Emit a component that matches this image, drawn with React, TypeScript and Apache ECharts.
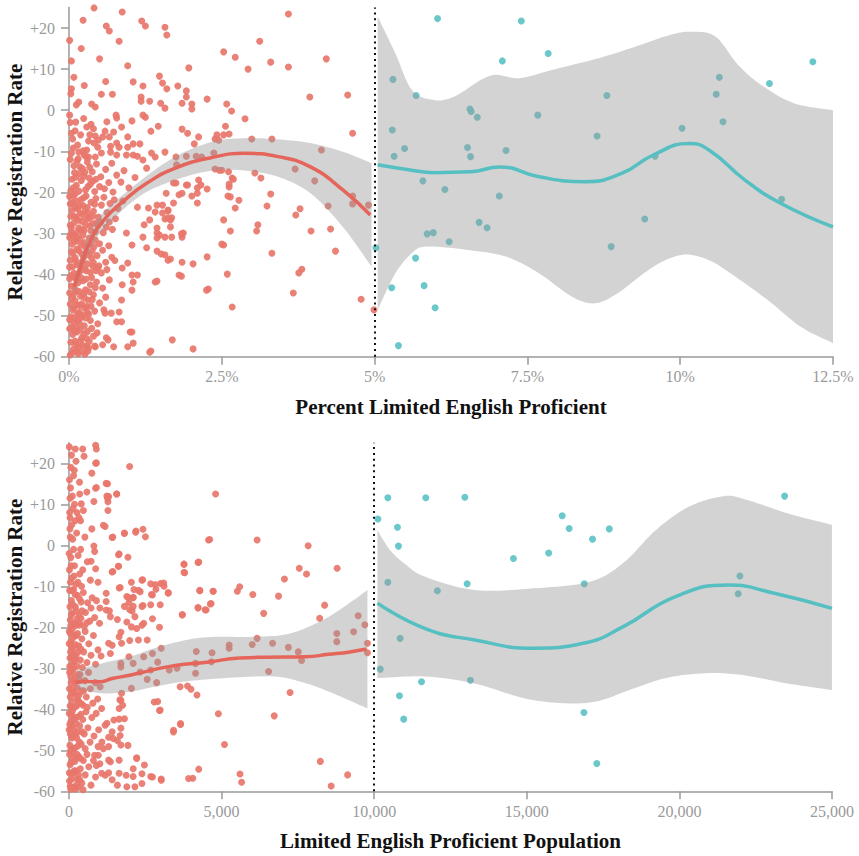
import React, { useEffect, useRef } from "react";
import * as echarts from "echarts";

const FONT = "'Liberation Serif', 'DejaVu Serif', serif";
const RED = "#E8766B";
const BLUE = "#5EC3C6";
const RED_LINE = "#E5655A";
const BLUE_LINE = "#55BFC2";
const BAND = "rgba(150,150,150,0.42)";

const Y_TICKS = [-60, -50, -40, -30, -20, -10, 0, 10, 20];
const TOP_X_TICKS = [0, 2.5, 5, 7.5, 10, 12.5];
const BOTTOM_X_TICKS = [0, 5000, 10000, 15000, 20000, 25000];
const TOP_CUTOFF = 5;
const BOTTOM_CUTOFF = 10000;

// ---------- Top panel: Percent Limited English Proficient ----------
const TOP_RED_POINTS: [number, number][] = [
  [0.41, 24.9], [0.23, 21.9], [0.87, 23.9], [0.61, 20.5], [0.66, 19.3], [1.19, 21.7], [1.25, 20.5],
  [1.57, 20.2], [1.6, 18.3], [0.82, 16.8], [0.04, 12.0], [0.5, 12.5], [0.96, 10.8], [1.96, 10.3],
  [2.53, 14.2], [2.72, 12.9], [2.93, 10], [3.12, 16.8], [3.3, 11.7], [3.59, 23.4], [3.59, 10.5],
  [4.21, 12.5], [3.94, 3.2], [4.56, 3.7], [4.64, -5.6], [4.13, -9.7], [0.04, 5.2], [0.12, 1.3],
  [0.53, 3.9], [0.71, 3.9], [0.37, 1.5], [0.43, 0.8], [1.05, 6.9], [1.21, 5.9], [1.18, 3.2],
  [1.18, 2.2], [1.32, 2.2], [1.48, 8.3], [1.53, 6.6], [1.6, 5.2], [1.78, 5.9], [1.92, 4.7],
  [1.92, 3.2], [2.26, 2.7], [1.5, 1.7], [1.57, 0.5], [1.85, 1.7], [2.01, 1.5], [2.01, 0.3],
  [2.58, 1.5], [2.66, -0.2], [2.88, -2.1], [0.01, -1.2], [0.11, -2.9], [0.29, -4.1], [0.36, -3.4],
  [0.77, -1.2], [0.78, -1.9], [0.86, -4.1], [1.03, -2.6], [1.21, -1.2], [1.25, -1.7], [1.46, -3.9],
  [1.34, -5.1], [1.85, -4.6], [1.94, -5.6], [2.12, -6.5], [2.56, -3.9], [2.42, -6], [2.62, -5.8],
  [2.39, -7], [2.45, -7.3], [2.99, -7], [3.32, -7], [0.04, -5.6], [0.34, -6], [0.43, -6.3],
  [0.48, -7.3], [0.41, -8], [0.59, -5.1], [0.66, -6.5], [0.73, -5.3], [0.78, -8], [0.82, -9],
  [0.96, -6.5], [0.96, -9], [1.05, -8.2], [1.16, -8.2], [0.07, -9.2], [0.16, -10.2], [0.23, -9.9],
  [0.29, -9.7], [0.25, -10.9], [0.32, -11.4], [0.43, -11.4], [0.53, -10.4], [0.68, -10.2],
  [0.78, -10.9], [0.94, -10.9], [1.05, -10.9], [1.12, -11.2], [1.21, -12.1], [1.35, -10.4],
  [1.41, -11.4], [1.57, -10.2], [1.75, -11.4], [2.05, -8.2], [1.27, -14.1], [1.92, -11.2],
  [1.76, -13.3], [2.37, -10.4], [2.08, -11.2], [2.17, -11.4], [2.39, -14.3], [2.46, -14.6],
  [2.5, -14.6], [2.61, -15], [2.67, -16.5], [3.04, -15.3], [3.14, -16.5], [2.12, -17], [2.16, -18.2],
  [1.94, -18.2], [1.71, -17.7], [1.59, -20.2], [1.71, -22.6], [1.85, -20.2], [2.1, -20.2],
  [2.62, -18.7], [2.64, -21.1], [2.78, -21.9], [2.72, -23.8], [1.44, -23.1], [1.53, -25],
  [1.62, -24.5], [1.66, -26.7], [1.57, -26.5], [1.66, -28.4], [1.44, -29.9], [1.48, -30.4],
  [1.51, -35], [1.57, -35.2], [1.66, -36.2], [1.87, -29.9], [1.85, -30.9], [1.85, -37], [2.03, -37.4],
  [1.84, -40.4], [2.26, -35.7], [2.28, -43.5], [2.5, -32.6], [2.64, -29.4], [2.59, -39.9],
  [2.67, -47.9], [1.44, -41.6], [1.69, -55.9], [2.03, -58.1], [1.34, -58.6], [0.96, -57.6],
  [1.03, -54], [0.86, -51.5], [0.82, -49.1], [0.57, -48.6], [0.61, -55.4], [0.64, -55.9],
  [0.46, -54.2], [0.73, -57.6], [2.53, -6], [3.7, -14.3], [4.02, -17.2], [2.62, -18], [2.69, -16.8],
  [2.6, -20.9], [3.3, -20.4], [3.24, -23.3], [3.78, -24], [3.71, -25.5], [4.24, -23.3], [4.64, -20.9],
  [4.64, -22.8], [4.9, -23.1], [3.09, -27.9], [3.07, -29.4], [2.53, -32.8], [3.96, -29.4],
  [4.28, -28.9], [3.32, -34.8], [4.36, -34.3], [3.81, -38.7], [3.76, -39.6], [3.67, -44.5],
  [4.78, -46], [4.99, -48.6], [2.53, -26.7], [1.75, -17.7], [1.92, -18.2], [2.1, -18.9],
  [2.26, -19.2], [1.8, -20.6], [2.01, -20.9], [1.53, -23.1], [1.62, -24.3], [2.1, -22.6],
  [1.12, -23.6], [1.3, -23.8], [1.41, -24.8], [1.62, -26.2], [1.68, -26.2], [1.32, -26.7],
  [1.23, -27.9], [1.44, -28.7], [0.94, -29.9], [1.21, -30.9], [1.44, -31.1], [1.57, -30.9],
  [1.68, -30.9], [1.84, -30.1], [1.03, -32.8], [1.27, -33.5], [1.44, -34.3], [1.62, -36.5],
  [0.96, -37.2], [0.87, -38.4], [1.03, -40.1], [1.12, -40.1], [1.05, -41.8], [0.87, -42.5],
  [1.41, -41.8], [1.8, -40.1], [2.25, -43.8], [1.03, -43.8], [0.86, -46.2], [0.78, -51.5],
  [0.59, -49.4], [0.69, -49.4], [1.0, -54], [1.05, -56.7], [1.32, -58.9], [0.55, -57.1],
  [0.43, -57.6], [0.32, -57.9],
  // dense column near zero
  [0.02, -12], [0.08, -13.5], [0.15, -11.8], [0.22, -14.2], [0.3, -12.6], [0.38, -15], [0.45, -13.1],
  [0.52, -16.2], [0.6, -14.4], [0.7, -12.9], [0.78, -15.8], [0.85, -17.5], [0.05, -16.8], [0.12, -18.3],
  [0.2, -17.1], [0.27, -19.4], [0.35, -18], [0.42, -19.8], [0.5, -18.6], [0.58, -19.1], [0.65, -17.6],
  [0.72, -19.9], [0.9, -14.7], [0.98, -18.9], [1.08, -16.4], [0.03, -19.6], [0.17, -15.4], [0.33, -16.5],
  [0.01, -21], [0.06, -22.5], [0.1, -20.4], [0.14, -24], [0.19, -21.8], [0.23, -23.2], [0.28, -20.9],
  [0.31, -25.1], [0.36, -22.4], [0.4, -24.6], [0.44, -21.5], [0.48, -26], [0.53, -23.1], [0.57, -21.2],
  [0.62, -24.9], [0.67, -22.7], [0.74, -21.8], [0.8, -23.9], [0.88, -22.1], [0.03, -25.8], [0.08, -27.4],
  [0.12, -26.1], [0.16, -28.6], [0.21, -27], [0.25, -29.3], [0.29, -26.5], [0.34, -28.2], [0.38, -27.6],
  [0.43, -29.6], [0.47, -28.1], [0.52, -27.3], [0.56, -29.8], [0.61, -28.5], [0.66, -27.2], [0.71, -29],
  [0.76, -26.4], [0.05, -29.9], [0.18, -25], [0.02, -28], [0.1, -23.6],
  [0.01, -31], [0.05, -32.6], [0.09, -30.5], [0.13, -33.8], [0.17, -31.4], [0.21, -35], [0.25, -32.2],
  [0.29, -34.6], [0.33, -31.1], [0.37, -36], [0.41, -33.2], [0.46, -35.4], [0.5, -32.5], [0.55, -34.1],
  [0.6, -37], [0.65, -33], [0.7, -35.8], [0.02, -36.5], [0.06, -38.1], [0.1, -35.9], [0.14, -37.6],
  [0.18, -39.2], [0.22, -36.8], [0.26, -38.6], [0.3, -37.4], [0.35, -39.5], [0.39, -38], [0.44, -39.1],
  [0.49, -37.9], [0.53, -39.6], [0.62, -38.8], [0.75, -36.6], [0.04, -34.4], [0.12, -31.9], [0.08, -39.7],
  [0.01, -41], [0.04, -42.8], [0.08, -40.6], [0.11, -44.1], [0.15, -42], [0.19, -45.3], [0.23, -41.5],
  [0.27, -43.7], [0.31, -46.2], [0.35, -42.5], [0.4, -44.9], [0.45, -41.8], [0.5, -46.9], [0.55, -43.3],
  [0.02, -47.2], [0.06, -48.6], [0.1, -46.4], [0.14, -49.5], [0.18, -47.6], [0.22, -49.9], [0.26, -48.2],
  [0.3, -49.2], [0.36, -47.7], [0.42, -48.9], [0.6, -45.5], [0.66, -41.3], [0.07, -45],
  [0.01, -51], [0.05, -52.7], [0.09, -50.5], [0.13, -54], [0.17, -51.8], [0.21, -55.4], [0.25, -52.5],
  [0.3, -53.9], [0.35, -51.2], [0.4, -55], [0.03, -56.5], [0.07, -58.2], [0.11, -57], [0.15, -59.3],
  [0.19, -56.1], [0.23, -58.8], [0.28, -57.4], [0.02, -59.6], [0.12, -53], [0.33, -56.3], [0.47, -52],
  [0.02, -3], [0.06, -7], [0.1, -5], [0.14, -8.5], [0.19, -6], [0.24, -2], [0.32, -7.5], [0.4, -4.5],
  [0.47, -9], [0.55, -6.5], [0.62, -2.8], [0.68, -8.8], [0.03, 4], [0.08, 8], [0.16, 2], [0.25, 6],
  [0.6, 7], [0.01, 17], [0.2, 15],
  [0.04, -10.5], [0.09, -15.2], [0.13, -12.4], [0.18, -13.8], [0.24, -16.1], [0.28, -11.3], [0.34, -13.9],
  [0.39, -17.3], [0.07, -18.9], [0.11, -16.3], [0.16, -19.7], [0.26, -15.1], [0.31, -18.6], [0.44, -16.8],
  [0.02, -22.8], [0.05, -24.4], [0.07, -20.9], [0.09, -25.9], [0.12, -22.1], [0.15, -26.8], [0.17, -23.3],
  [0.2, -29.1], [0.22, -25.4], [0.24, -21.3], [0.27, -27.9], [0.3, -23.7], [0.33, -26.2], [0.36, -29.4],
  [0.39, -25.8], [0.42, -22.9], [0.45, -27.4], [0.04, -28.7], [0.14, -29.6], [0.26, -24.6],
  [0.03, -30.2], [0.06, -34.9], [0.08, -31.7], [0.11, -36.7], [0.13, -30.9], [0.16, -34.2], [0.19, -37.9],
  [0.2, -32.8], [0.23, -30.4], [0.24, -35.8], [0.27, -33.4], [0.28, -39.1], [0.32, -35.2], [0.34, -32.6],
  [0.38, -34.3], [0.4, -37.1], [0.43, -31.6], [0.47, -38.4], [0.01, -38.2], [0.15, -39.8],
  [0.03, -40.3], [0.05, -45.8], [0.09, -43.3], [0.12, -41.2], [0.13, -47.4], [0.16, -44.1], [0.2, -40.8],
  [0.21, -47.1], [0.24, -44.6], [0.28, -41.1], [0.29, -47.8], [0.33, -44.2], [0.37, -40.7], [0.38, -46.1],
  [0.43, -43.2], [0.01, -44.5], [0.17, -49.2], [0.25, -45.6], [0.08, -48.1], [0.32, -49.7],
  [0.03, -50.3], [0.06, -54.6], [0.08, -51.7], [0.1, -56.2], [0.14, -51.1], [0.16, -57.7], [0.18, -53.3],
  [0.2, -50.4], [0.22, -57.2], [0.24, -54.4], [0.27, -50.6], [0.29, -55.6], [0.31, -58.6], [0.37, -53.1],
  [0.42, -57.4], [0.01, -53.2], [0.05, -59.1], [0.13, -58.7], [0.26, -59.4], [0.09, -53.8],
];

const TOP_BLUE_POINTS: [number, number][] = [
  [6.03, 22.3], [7.4, 21.7], [7.84, 13.8], [7.09, 12], [12.17, 11.8], [11.46, 6.5], [10.64, 8],
  [10.59, 3.9], [10.7, -2.8], [5.3, 7.5], [5.68, 3.6], [8.8, 3.6], [6.56, 0.3], [6.58, -0.3],
  [6.68, -1.7], [7.67, -1.2], [5.29, -4.8], [8.64, -6.3], [10.03, -4.4], [5.49, -9.3], [5.32, -11.2],
  [6.52, -9.1], [6.57, -11.3], [7.15, -9.8], [9.59, -11.2], [5.79, -17.2], [6.15, -19.3],
  [7.04, -20.9], [11.66, -21.7], [9.42, -26.5], [6.71, -27.3], [6.84, -28.6], [5.86, -30.1],
  [5.96, -29.8], [6.22, -32], [8.87, -33.2], [5.02, -33.5], [5.67, -36], [5.28, -43.2], [5.81, -42.7],
  [5.99, -48.1], [5.39, -57.3],
];

const TOP_RED_FIT_X = [0.08, 0.14, 0.31, 0.55, 0.91, 1.27, 1.74, 2.34, 2.88, 3.42, 3.95, 4.48, 4.93];
const TOP_RED_FIT_Y = [-43, -40.5, -33.2, -27.1, -21.9, -17.8, -14.1, -11.5, -10.5, -11.3, -13.8, -19.4, -25.5];
const TOP_RED_BAND_X = [0.08, 0.14, 0.31, 0.55, 1.15, 1.74, 2.34, 2.88, 3.42, 3.95, 4.48, 4.95];
const TOP_RED_BAND_HI = [-41, -38.5, -31, -25.1, -17.4, -11.3, -7.7, -6.8, -7.1, -8, -10.1, -12.9];
const TOP_RED_BAND_LO = [-45, -42.5, -35.2, -29.2, -21, -17, -14.7, -14.7, -16.2, -20.2, -28.4, -38.1];

const TOP_BLUE_FIT_X = [5.05, 5.56, 5.98, 6.57, 7.05, 7.69, 8.44, 9.04, 9.56, 10.15, 10.47, 11.06, 11.65, 12.5];
const TOP_BLUE_FIT_Y = [-13.3, -14.5, -15.2, -15, -13.8, -16.2, -17.4, -15.4, -10.9, -8.1, -9.7, -17, -22.7, -28.4];
const TOP_BLUE_HI_X = [5.05, 5.34, 5.61, 5.96, 6.3, 6.89, 7.37, 7.9, 8.65, 9.19, 9.83, 10.2, 10.58, 10.95, 11.33, 11.86, 12.5];
const TOP_BLUE_HI = [22.8, 13.8, 4.9, 2.5, 3.3, 8.4, 7.8, 9.8, 12.6, 15.1, 18.3, 19.1, 17.9, 11, 6.1, 1.7, 0];
const TOP_BLUE_LO_X = [5.05, 5.34, 5.61, 5.85, 6.52, 7.16, 7.69, 8.23, 8.6, 8.97, 9.56, 10.04, 10.47, 10.9, 11.43, 11.97, 12.5];
const TOP_BLUE_LO = [-48.6, -39.7, -34.8, -33.2, -34, -35.7, -39.7, -45.4, -47, -44.6, -38.1, -35.2, -36.5, -40.5, -46.2, -52.7, -56.7];

// ---------- Bottom panel: Limited English Proficient Population ----------
const BOTTOM_RED_POINTS: [number, number][] = [
  [4803, 12.5], [1987, 19.2], [4572, 1.3], [6164, 1.3], [7836, -0.1], [8786, -5.6], [3768, -4.6],
  [3791, -6.7], [4228, -4.2], [4285, -11.1], [4722, -11.2], [4630, -14.3], [4228, -15.2], [4493, -15.8],
  [3711, -17], [5516, -11.2], [5592, -10.1], [6023, -12], [6379, -16.6], [6865, -12.4], [7059, -8.2],
  [7545, -5.6], [7782, -7], [8375, -14.6], [8213, -17.8], [9476, -17.2], [9325, -21.1], [8775, -21.5],
  [8775, -23.5], [9692, -19.4], [9778, -23.9], [9778, -26.2], [7512, -26], [7620, -28.1], [7188, -24.9],
  [6670, -23.9], [6164, -22.7], [6002, -24.2], [6541, -30.8], [7243, -35.9], [6725, -41.6], [5247, -25.1],
  [5247, -24.3], [4687, -26.2], [4664, -28.4], [4170, -25.9], [4147, -28.8], [4147, -31.2], [4193, -36.5],
  [3883, -34.3], [3998, -35.1], [3642, -34.5], [2906, -28.5], [3021, -25.1], [3286, -30.4], [3539, -30],
  [2906, -38.1], [2987, -40.2], [3653, -43.7], [3424, -45.5], [4894, -41.1], [5095, -48.6], [8235, -52.7],
  [9130, -56], [8591, -58.7], [5603, -55.8], [5656, -57.8], [4251, -54.6], [4056, -56.8], [3918, -56.9],
  [3021, -57], [2677, -56.4], [2390, -58.1], [2102, -56.4], [2217, -51.8], [2470, -53.6], [1895, -58.9],
  [1643, -55.6], [1298, -55.5], [1643, -52.4], [1356, -52.8], [1700, -48.7], [1447, -47.1], [1677, -46.4],
  [1643, -42.4], [1470, -42.6], [1700, -44.6], [2998, -9.3], [2849, -10.7], [3251, -11.7], [2734, -12.1],
  [2677, -14.5], [2424, -14.7], [2102, -12.8], [2332, -11.3], [2068, -16], [2159, -17.4], [2447, -19],
  [2217, -20.3], [1895, -18.7], [1585, -18.1], [2677, -9.4], [2390, -8.5], [2194, 3.5], [2424, 3.9],
  [2504, 2.1], [1815, 2.9], [1562, 12.5], [1275, 10.6], [1298, 11.9], [1218, 15.1], [873, 13.9],
  [873, 20], [873, 24.4], [1413, 1.9], [1643, -2.1], [1620, -5.1], [1436, -6.4], [1677, -10.3],
  [1895, -12.5], [1964, -14], [1218, -11.7], [1218, -15.8], [1356, -17.4], [1643, -22.3], [1298, -23.9],
  [1723, -23.9], [1964, -27.2], [1700, -28.8], [2102, -28.8], [2447, -27.2], [2562, -23.1], [2275, -23.1],
  [2045, -19.9], [2677, -30.4], [2562, -32.7], [2872, -33.5], [2045, -34.9], [1723, -36.1], [1666, -37.7],
  [1757, -39], [1068, -39.8], [1241, -43.4], [1413, -45.5], [953, -49.1], [1298, -49.1], [1298, -52.4],
  [1068, -55.6], [1413, -57.2],
  [207, 23.5], [448, 23.5], [896, 23.5], [230, 20.5], [494, 21.7], [896, 20.1], [172, 18.3], [748, 17.6],
  [345, 15.4], [896, 14.1], [1264, 15], [586, 13], [816, 10.7], [1241, 12], [1264, 11.5], [1563, 12.5],
  [34, 11.5], [402, 10.1], [471, 8.5], [1276, 8.5], [34, 6.7], [322, 6.8], [379, 6], [748, 4],
  [1127, 4.9], [1184, 4.6], [1436, 2], [1816, 3], [2183, 3.2], [4610, 1.4], [816, -0.2], [839, -1.5],
  [1621, -2.3], [1931, -2.9], [724, -3.9], [873, -5.7], [1621, -5.1], [1414, -6.5], [3769, -4.6],
  [3769, -6.6], [4252, -4.1], [2045, -9], [2414, -8.4], [2127, -10.8], [2275, -11], [2827, -9.6],
  [3103, -9.2], [3114, -10], [3252, -11.5], [2701, -12], [1644, -10.4], [1931, -12.7], [2103, -12.7],
  [1816, -14.9], [1989, -15.7], [2103, -14.9], [2390, -14.9], [1218, -13.7], [1322, -16], [724, -15.3],
  [1011, -15.3], [2989, -14.5], [4287, -11], [4723, -11.2], [3713, -16.9], [4229, -15.3], [4459, -15.7],
  [4655, -14.2],
  [1700, -21.2], [1989, -23.2], [2390, -19.5], [2735, -17.9], [2966, -20], [1414, -24.4], [1356, -26.4],
  [1700, -29.7], [2332, -30.9], [2735, -26.4], [1700, -37.8], [1643, -39.8], [1816, -42.3], [1184, -43.9],
  [1299, -46.8], [1586, -47.6], [1931, -48.8], [1126, -49.6], [2218, -52], [2103, -54.5], [2390, -55.7],
  [1873, -56.1], [2735, -56.5], [3022, -57.3], [1586, -58.5], [1184, -56.1], [1011, -53.3], [839, -51.2],
  [896, -53.7], [2160, -58.9], [2792, -38.2], [2966, -40.3], [3656, -43.5], [3426, -45.1],
  // dense column near zero
  [30, 4], [120, 1.5], [250, 3], [380, -1], [520, 2], [60, -3], [180, -5], [300, -2.5], [450, -6],
  [600, -4], [90, -8], [220, -9.5], [350, -7], [700, -8.5], [15, -6], [950, -9],
  [20, -11], [80, -13.5], [150, -10.8], [210, -15], [270, -12.2], [330, -17], [400, -13.8], [470, -11.5],
  [540, -16.4], [610, -14], [680, -18.5], [760, -12.8], [840, -17.6], [40, -18.2], [110, -16.5],
  [190, -19.6], [260, -18], [360, -19.2], [430, -16], [500, -19.8], [580, -18.9], [900, -13.5], [1000, -19],
  [10, -21], [60, -23.5], [100, -20.5], [140, -25], [180, -22], [230, -27], [280, -21.5], [320, -24.5],
  [370, -28], [420, -22.8], [480, -26], [530, -21], [590, -28.6], [650, -24], [720, -26.8], [800, -22],
  [870, -29], [950, -25.5], [30, -27.5], [90, -29.2], [160, -28.3], [210, -24.2], [260, -29.5],
  [440, -29.8], [1050, -27],
  [20, -31], [70, -33.5], [120, -30.5], [170, -36], [220, -32], [270, -34.8], [310, -38], [360, -31.5],
  [410, -35.5], [460, -39], [520, -33], [570, -37], [640, -31], [700, -35], [780, -38.5], [860, -33.5],
  [940, -37.5], [40, -37], [100, -39.5], [150, -33], [250, -39.2], [330, -36.5], [600, -39.5], [1020, -34.5],
  [10, -41], [60, -43], [110, -40.5], [160, -45], [200, -42], [250, -47], [300, -41.8], [350, -44],
  [400, -48.5], [450, -42.5], [500, -46], [560, -40.6], [620, -44.5], [690, -48], [750, -42], [820, -46.5],
  [890, -41], [970, -45], [30, -48.8], [90, -47], [140, -49.5], [280, -49], [530, -49.6], [1080, -48],
  [20, -51], [70, -53], [120, -50.5], [170, -55], [220, -52], [270, -57], [320, -51.5], [370, -54.5],
  [420, -58], [470, -52.5], [530, -56], [590, -51], [650, -54], [720, -58.5], [800, -52.5], [870, -56.5],
  [40, -58.8], [100, -57], [200, -59.5], [300, -59], [960, -51.2], [10, -55.5],
  [10, 24], [50, 14], [130, 9], [200, 6], [80, 22], [20, 8], [350, 12.5], [150, 17],
  [60, 19], [15, 16], [110, 12], [40, 2], [90, 5], [180, 10], [260, 8], [150, -1],
  [5, -2], [45, -9], [70, -5], [100, -11], [130, -14.5], [165, -7.5], [200, -12], [240, -16], [290, -9],
  [340, -13], [390, -17.8], [30, -15], [75, -17], [120, -19], [55, -19.7], [225, -19], [310, -19.5], [410, -10],
  [5, -24], [25, -29.5], [45, -21.5], [50, -26], [75, -30.5], [85, -24.8], [105, -27.3], [125, -22.6],
  [130, -35], [145, -30], [165, -26.5], [190, -33.5], [200, -28], [235, -36.5], [240, -22], [285, -31.5],
  [300, -26], [345, -33], [390, -25.3], [400, -38.6], [15, -35], [35, -39.2], [60, -32], [95, -36],
  [115, -38], [185, -39.5], [280, -37.6], [480, -35.5],
  [5, -45], [25, -43.7], [45, -46], [55, -50], [80, -41.5], [95, -44], [115, -52], [130, -46.5],
  [150, -55.5], [165, -42.5], [185, -49.5], [210, -46], [230, -55], [240, -43.5], [260, -51], [295, -45.5],
  [310, -56], [340, -48], [380, -52], [390, -41.2], [430, -45.5], [15, -57.5], [60, -59.5], [140, -59],
  [250, -58.4], [350, -57.2], [460, -59.6], [35, -53.5], [85, -55.6], [190, -52.7],
];

const BOTTOM_BLUE_POINTS: [number, number][] = [
  [10447, 11.6], [10123, 6.4], [10762, 4.4], [10795, -0.2], [10447, -9], [10849, -22.7], [10199, -30.2],
  [10827, -36.7], [10967, -42.4], [11550, -33.3], [11690, 11.6], [12970, 11.7], [13045, -9.4],
  [12070, -11.1], [13153, -32.9], [14562, -3.2], [15717, -1.9], [16160, 7.2], [16387, 4.1], [17153, 1.5],
  [17703, 4], [16883, -9.4], [16872, -40.8], [17294, -53.2], [21982, -7.5], [21927, -11.8], [23447, 12],
];

const BOTTOM_RED_FIT_X = [200, 500, 1000, 1414, 1990, 2679, 3483, 4517, 5590, 6500, 7753, 8500, 9200, 9750];
const BOTTOM_RED_FIT_Y = [-33.5, -33.2, -33.3, -32.5, -31.7, -30.5, -29.3, -28.5, -27.5, -27.3, -27.2, -26.6, -26, -25.3];
const BOTTOM_RED_HI_X = [264, 1069, 1990, 2793, 3597, 4517, 6166, 7245, 8324, 9187, 9779];
const BOTTOM_RED_HI = [-30.4, -28.8, -27.2, -25.1, -23.5, -22.4, -22.3, -21.5, -18.2, -14.1, -10.9];
const BOTTOM_RED_LO_X = [264, 1069, 1990, 2793, 3713, 5087, 6706, 7785, 8647, 9779];
const BOTTOM_RED_LO = [-34.9, -36.1, -35.7, -34.5, -33.3, -32.4, -32, -33.7, -36.1, -39.8];

const BOTTOM_BLUE_FIT_X = [10106, 11670, 13289, 15232, 16851, 18146, 19872, 21599, 23110, 24998];
const BOTTOM_BLUE_FIT_Y = [-14.1, -20.3, -23.1, -25.1, -23.9, -19.9, -12.5, -9.7, -11.7, -15.4];
const BOTTOM_BLUE_HI_X = [10106, 10500, 11000, 11670, 13289, 15232, 17067, 18146, 19225, 20303, 21383, 22030, 23540, 24998];
const BOTTOM_BLUE_HI = [3.7, -1, -4.5, -7.7, -10.9, -10.5, -8.9, -4.4, 3.7, 9.4, 11.9, 11.5, 7.8, 5];
const BOTTOM_BLUE_LO_X = [10106, 11670, 13289, 14908, 16203, 17282, 18362, 19549, 20843, 22030, 23540, 24998];
const BOTTOM_BLUE_LO = [-32.4, -32, -33.7, -37.3, -38.5, -38.1, -35.3, -32.4, -31.2, -31.6, -33.7, -35.3];

const zip = (xs: number[], ys: number[]) => xs.map((x, i) => [x, ys[i]]);

// Catmull-Rom resampling (in pixel space) so each band edge is drawn as a smooth curve
function smoothEdge(pts: number[][], steps = 10): number[][] {
  const out: number[][] = [];
  for (let i = 0; i < pts.length - 1; i++) {
    const p0 = pts[i - 1] || pts[i];
    const p1 = pts[i];
    const p2 = pts[i + 1];
    const p3 = pts[i + 2] || pts[i + 1];
    for (let s = 0; s < steps; s++) {
      const t = s / steps;
      const t2 = t * t;
      const t3 = t2 * t;
      const f = (a: number, b: number, c: number, d: number) =>
        0.5 * (2 * b + (-a + c) * t + (2 * a - 5 * b + 4 * c - d) * t2 + (-a + 3 * b - 3 * c + d) * t3);
      out.push([f(p0[0], p1[0], p2[0], p3[0]), f(p0[1], p1[1], p2[1], p3[1])]);
    }
  }
  out.push(pts[pts.length - 1]);
  return out;
}

function bandSeries(xHi: number[], hi: number[], xLo: number[], lo: number[], idx: number) {
  return {
    type: "custom",
    xAxisIndex: idx,
    yAxisIndex: idx,
    z: 3,
    silent: true,
    data: [[xHi[0], hi[0]]],
    renderItem: (_params: any, api: any) => {
      const top = smoothEdge(xHi.map((x, i) => api.coord([x, hi[i]])));
      const bottom = smoothEdge(xLo.map((x, i) => api.coord([x, lo[i]])));
      const pts = top.concat(bottom.reverse());
      return {
        type: "polygon",
        shape: { points: pts },
        style: { fill: BAND },
      };
    },
  };
}

function scatter(points: [number, number][], color: string, idx: number, cutoff?: number) {
  const s: any = {
    type: "scatter",
    xAxisIndex: idx,
    yAxisIndex: idx,
    z: 2,
    symbolSize: 7,
    data: points,
    itemStyle: { color, opacity: 0.92 },
    silent: true,
  };
  if (cutoff !== undefined) {
    s.markLine = {
      silent: true,
      symbol: ["none", "none"],
      label: { show: false },
      lineStyle: { color: "#111", type: [2, 3.8], width: 2 },
      data: [{ xAxis: cutoff }],
    };
  }
  return s;
}

function fitLine(xs: number[], ys: number[], color: string, idx: number) {
  return {
    type: "line",
    xAxisIndex: idx,
    yAxisIndex: idx,
    z: 4,
    smooth: 0.5,
    showSymbol: false,
    silent: true,
    data: zip(xs, ys),
    lineStyle: { color, width: 3.5 },
  };
}

const axisLineStyle = { color: "#9a9a9a", width: 1.5 };
const tickLabelStyle = { color: "#9a9a9a", fontFamily: FONT, fontSize: 16 };
const nameStyle = { fontFamily: FONT, fontSize: 21, fontWeight: "bold", color: "#111" };

function yAxis(idx: number) {
  return {
    type: "value",
    gridIndex: idx,
    min: -60,
    max: 25,
    interval: 10,
    name: "Relative Registration Rate",
    nameLocation: "middle",
    nameGap: 44,
    nameMoveOverlap: false,
    nameTextStyle: nameStyle,
    axisLine: { show: true, lineStyle: axisLineStyle },
    axisTick: { show: true, length: 8, lineStyle: axisLineStyle, customValues: Y_TICKS },
    axisLabel: {
      ...tickLabelStyle,
      margin: 14,
      customValues: Y_TICKS,
      formatter: (v: number) => (v > 0 ? "+" + v : String(v)),
    },
    splitLine: { show: false },
  };
}

function xAxis(idx: number, max: number, interval: number, name: string, ticks: number[], fmt: (v: number) => string, gap: number) {
  return {
    type: "value",
    gridIndex: idx,
    min: 0,
    max,
    interval,
    name,
    nameLocation: "middle",
    nameGap: gap,
    nameTextStyle: nameStyle,
    axisLine: { show: true, onZero: false, lineStyle: axisLineStyle },
    axisTick: { show: true, length: 8, lineStyle: axisLineStyle, customValues: ticks },
    axisLabel: { ...tickLabelStyle, margin: 12, customValues: ticks, formatter: fmt },
    splitLine: { show: false },
  };
}

export default function App() {
  const ref = useRef<HTMLDivElement>(null);

  useEffect(() => {
    if (!ref.current) return;
    const chart = echarts.init(ref.current, undefined, { renderer: "svg" });
    chart.setOption({
      animation: false,
      backgroundColor: "#ffffff",
      textStyle: { fontFamily: FONT },
      grid: [
        { left: 69, right: 26, top: 7.5, height: 349.2, containLabel: false, outerBoundsMode: "none" },
        { left: 69, right: 27, top: 442.8, height: 348.5, containLabel: false, outerBoundsMode: "none" },
      ],
      xAxis: [
        xAxis(0, 12.5, 2.5, "Percent Limited English Proficient", TOP_X_TICKS, (v) => v + "%", 40),
        xAxis(1, 25000, 5000, "Limited English Proficient Population", BOTTOM_X_TICKS, (v) => v.toLocaleString("en-US"), 39),
      ],
      yAxis: [yAxis(0), yAxis(1)],
      series: [
        scatter(TOP_RED_POINTS, RED, 0, TOP_CUTOFF),
        scatter(TOP_BLUE_POINTS, BLUE, 0),
        bandSeries(TOP_RED_BAND_X, TOP_RED_BAND_HI, TOP_RED_BAND_X, TOP_RED_BAND_LO, 0),
        bandSeries(TOP_BLUE_HI_X, TOP_BLUE_HI, TOP_BLUE_LO_X, TOP_BLUE_LO, 0),
        fitLine(TOP_RED_FIT_X, TOP_RED_FIT_Y, RED_LINE, 0),
        fitLine(TOP_BLUE_FIT_X, TOP_BLUE_FIT_Y, BLUE_LINE, 0),
        scatter(BOTTOM_RED_POINTS, RED, 1, BOTTOM_CUTOFF),
        scatter(BOTTOM_BLUE_POINTS, BLUE, 1),
        bandSeries(BOTTOM_RED_HI_X, BOTTOM_RED_HI, BOTTOM_RED_LO_X, BOTTOM_RED_LO, 1),
        bandSeries(BOTTOM_BLUE_HI_X, BOTTOM_BLUE_HI, BOTTOM_BLUE_LO_X, BOTTOM_BLUE_LO, 1),
        fitLine(BOTTOM_RED_FIT_X, BOTTOM_RED_FIT_Y, RED_LINE, 1),
        fitLine(BOTTOM_BLUE_FIT_X, BOTTOM_BLUE_FIT_Y, BLUE_LINE, 1),
      ],
    });
    return () => chart.dispose();
  }, []);

  return (
    <div
      ref={ref}
      style={{ position: "absolute", left: 0, top: 0, width: 859, height: 856, background: "#fff" }}
    />
  );
}
